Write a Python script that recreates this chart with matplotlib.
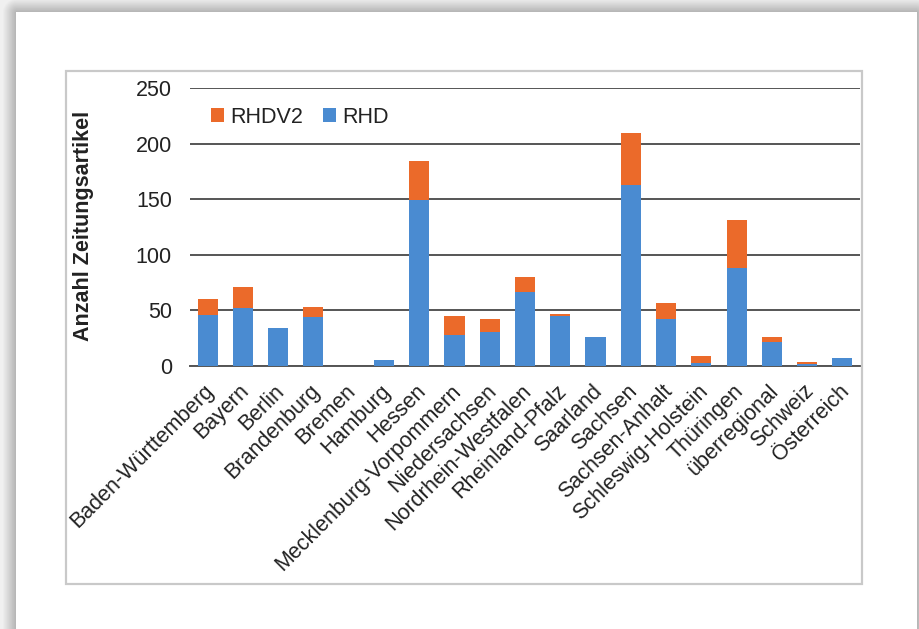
import numpy as np
import matplotlib
matplotlib.use("Agg")
import matplotlib.pyplot as plt
import matplotlib.transforms as mtransforms
from matplotlib.patches import Rectangle

plt.rcParams['font.family'] = ['Liberation Sans', 'DejaVu Sans']

categories = ["Baden-Württemberg", "Bayern", "Berlin", "Brandenburg", "Bremen",
              "Hamburg", "Hessen", "Mecklenburg-Vorpommern", "Niedersachsen",
              "Nordrhein-Westfalen", "Rheinland-Pfalz", "Saarland", "Sachsen",
              "Sachsen-Anhalt", "Schleswig-Holstein", "Thüringen", "überregional",
              "Schweiz", "Österreich"]
rhd = [46, 52, 34, 44, 0, 5, 149, 28, 31, 67, 45, 26, 163, 42, 3, 88, 22, 2, 7]
rhdv2 = [14, 19, 0, 9, 0, 0, 36, 17, 11, 13, 2, 0, 47, 15, 6, 43, 4, 2, 0]
yticks = [0, 50, 100, 150, 200, 250]

W, H = 920, 629
fig = plt.figure(figsize=(W / 100, H / 100), dpi=100)

# page background with a soft drop shadow around the white card
bg = fig.add_axes([0, 0, 1, 1], zorder=-10)
bg.set_axis_off()
yy, xx = np.mgrid[0:H, 0:W]
cx0, cy0, cx1, cy1 = 16, 12, 916, 640
dx = np.maximum(np.maximum(cx0 - xx, xx - cx1), 0)
dy = np.maximum(np.maximum(cy0 - yy, yy - cy1), 0)
d = np.hypot(dx, dy)
inside = (xx >= cx0) & (xx <= cx1) & (yy >= cy0) & (yy <= cy1)
shade = 0.70 + 0.24 * np.clip(d / 14.0, 0, 1)
img = np.where(inside, 1.0, shade)
bg.imshow(img, cmap='gray', vmin=0, vmax=1, extent=[0, W, H, 0], aspect='auto',
          interpolation='bilinear')
bg.set_xlim(0, W)
bg.set_ylim(H, 0)

# chart frame
fig.patches.append(Rectangle((66 / W, 1 - 584 / H), (862 - 66) / W, (584 - 71) / H,
                             transform=fig.transFigure, fill=False,
                             edgecolor='#c9c9c9', linewidth=1.6, zorder=1))

ax = fig.add_axes([190 / W, 1 - 366 / H, (860 - 190) / W, (366 - 88.3) / H])
ax.set_facecolor('none')
x = np.arange(len(categories))
blue = '#4a8bd1'
orange = '#eb6a2a'
ax.bar(x, rhd, width=0.57, color=blue, label='RHD', zorder=3)
ax.bar(x, rhdv2, width=0.57, bottom=rhd, color=orange, label='RHDV2', zorder=3)

ax.set_xlim(-0.5, len(categories) - 0.5)
ax.set_ylim(0, 250)
ax.set_yticks(yticks)
ax.yaxis.grid(True, color='#555555', linewidth=1.4, zorder=0)
ax.set_axisbelow(True)
for s in ['top', 'right', 'left']:
    ax.spines[s].set_visible(False)
ax.spines['bottom'].set_color('#555555')
ax.spines['bottom'].set_linewidth(1.4)
ax.tick_params(axis='y', length=0, pad=13, labelsize=15.5, labelcolor='#222222')
ax.tick_params(axis='x', length=0, pad=4)
ax.set_xticks(x)
ax.set_xticklabels(categories, rotation=45, ha='right', rotation_mode='anchor',
                   fontsize=15.5, color='#222222')
shift = mtransforms.ScaledTranslation(-4 / 100, -9 / 100, fig.dpi_scale_trans)
for lbl in ax.get_xticklabels():
    lbl.set_transform(lbl.get_transform() + shift)

fig.text(83 / W, 1 - 226 / H, 'Anzahl Zeitungsartikel', rotation=90, ha='center',
         va='center', fontsize=15.5, fontweight='bold', color='#222222')

handles, labels = ax.get_legend_handles_labels()
leg = ax.legend(handles[::-1], labels[::-1], loc='center left',
                bbox_to_anchor=(211 / W, 1 - 117 / H), bbox_transform=fig.transFigure,
                ncol=2, frameon=False, fontsize=15.5, handlelength=0.6,
                handleheight=0.6, handletextpad=0.3, columnspacing=0.9,
                borderaxespad=0, borderpad=0)
for t in leg.get_texts():
    t.set_color('#222222')

fig.savefig('out.png', dpi=100)
